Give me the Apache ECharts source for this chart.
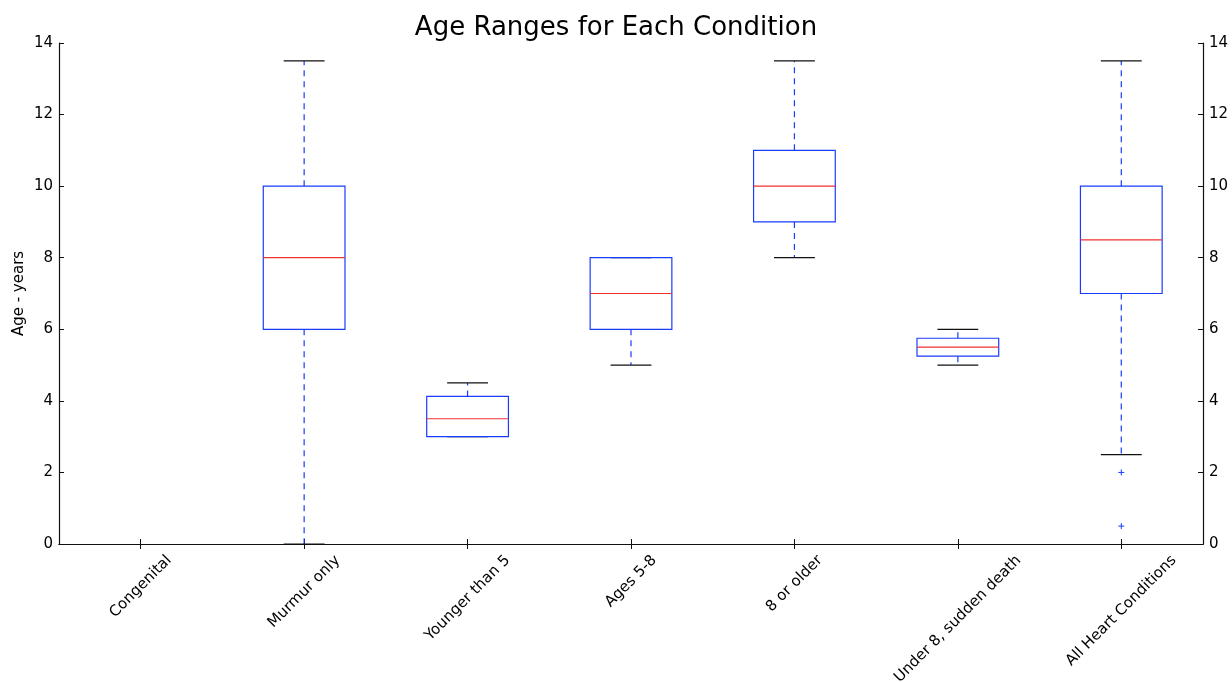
<!DOCTYPE html>
<html>
<head>
<meta charset="utf-8">
<script src="https://cdn.jsdelivr.net/npm/echarts@6/dist/echarts.min.js"></script>
<style>
  html, body { margin: 0; padding: 0; background: #fff; }
  #chart { width: 1232px; height: 682px; }
</style>
</head>
<body>
<div id="chart"></div>
<script>
// box statistics per condition (years)
var categories = ['Congenital', 'Murmur only', 'Younger than 5', 'Ages 5-8', '8 or older', 'Under 8, sudden death', 'All Heart Conditions'];
var whiskerLow  = [null, 0,    3,     5, 8,    5,    2.5];
var q1          = [null, 6,    3,     6, 9,    5.25, 7];
var median      = [null, 8,    3.5,   7, 10,   5.5,  8.5];
var q3          = [null, 10,   4.125, 8, 11,   5.75, 10];
var whiskerHigh = [null, 13.5, 4.5,   8, 13.5, 6,    13.5];
// outliers: [category index, value]
var outliers = [[6, 2], [6, 0.5]];

var FONT = '"DejaVu Sans", sans-serif';
var BLUE = '#1a3cff';

// rows for the custom series
var boxRows = [];
categories.forEach(function (c, i) {
    if (median[i] == null) return;
    boxRows.push([i, whiskerLow[i], q1[i], median[i], q3[i], whiskerHigh[i]]);
});

// rotated labels centred under the tick, like matplotlib's rotation=45
var ctx = document.createElement('canvas').getContext('2d');
ctx.font = '15px ' + FONT;
var rich = {};
categories.forEach(function (c, i) {
    var p = (ctx.measureText(c).width + 17) / 2;
    rich['l' + i] = { fontSize: 15, fontFamily: FONT, color: '#000', padding: [p, p, 0, 0] };
});

function renderBox(params, api) {
    var x = api.value(0);
    var band = api.size([1, 0])[0];
    var hw = band * 0.25, cw = band * 0.125;
    var pLow = api.coord([x, api.value(1)]);
    var pQ1 = api.coord([x, api.value(2)]);
    var pMed = api.coord([x, api.value(3)]);
    var pQ3 = api.coord([x, api.value(4)]);
    var pHigh = api.coord([x, api.value(5)]);
    var cx = pMed[0];
    var dash = { stroke: BLUE, lineWidth: 1.2, lineDash: [6, 5] };
    var cap = { stroke: '#111', lineWidth: 1.2 };
    var kids = [];
    if (api.value(1) < api.value(2)) {
        kids.push({ type: 'line', shape: { x1: cx, y1: pQ1[1], x2: cx, y2: pLow[1] }, style: dash });
    }
    if (api.value(5) > api.value(4)) {
        kids.push({ type: 'line', shape: { x1: cx, y1: pQ3[1], x2: cx, y2: pHigh[1] }, style: dash });
    }
    kids.push({ type: 'line', shape: { x1: cx - cw, y1: pLow[1], x2: cx + cw, y2: pLow[1] }, style: cap });
    kids.push({ type: 'line', shape: { x1: cx - cw, y1: pHigh[1], x2: cx + cw, y2: pHigh[1] }, style: cap });
    kids.push({ type: 'rect', shape: { x: cx - hw, y: pQ3[1], width: hw * 2, height: pQ1[1] - pQ3[1] },
        style: { fill: null, stroke: BLUE, lineWidth: 1.2 } });
    kids.push({ type: 'line', shape: { x1: cx - hw, y1: pMed[1], x2: cx + hw, y2: pMed[1] },
        style: { stroke: '#f03030', lineWidth: 1.2 } });
    return { type: 'group', children: kids };
}

function renderFlier(params, api) {
    var p = api.coord([api.value(0), api.value(1)]);
    var s = 3;
    var st = { stroke: BLUE, lineWidth: 1 };
    return { type: 'group', children: [
        { type: 'line', shape: { x1: p[0] - s, y1: p[1], x2: p[0] + s, y2: p[1] }, style: st },
        { type: 'line', shape: { x1: p[0], y1: p[1] - s, x2: p[0], y2: p[1] + s }, style: st }
    ] };
}

var axisLine = { show: true, lineStyle: { color: '#111', width: 1.2 } };
var tick = { show: true, inside: true, length: 5, lineStyle: { color: '#111' } };

var yAxisBase = {
    type: 'value', min: 0, max: 14, interval: 2,
    axisLine: axisLine, axisTick: tick, splitLine: { show: false },
    axisLabel: { fontSize: 15, fontFamily: FONT, color: '#000', margin: 6 }
};

var option = {
    backgroundColor: '#fff',
    animation: false,
    title: {
        text: 'Age Ranges for Each Condition', left: 'center', top: 10,
        textStyle: { fontSize: 26, fontWeight: 'normal', fontFamily: FONT, color: '#000' }
    },
    grid: { left: 59, right: 29, top: 43, bottom: 138, containLabel: false, outerBoundsMode: 'none' },
    xAxis: [{
        type: 'category', data: categories, position: 'bottom',
        axisLine: axisLine, axisTick: Object.assign({ alignWithLabel: true }, tick),
        axisLabel: {
            interval: 0, rotate: 45, margin: 8, align: 'center', verticalAlign: 'middle',
            formatter: function (v, i) { return '{l' + i + '|' + v + '}'; },
            rich: rich
        }
    }, {
        type: 'category', data: categories, position: 'top',
        axisLine: axisLine, axisTick: Object.assign({ alignWithLabel: true }, tick),
        axisLabel: { show: false }
    }],
    yAxis: [
        Object.assign({}, yAxisBase, {
            position: 'left', name: 'Age - years', nameLocation: 'middle', nameGap: 32,
            nameMoveOverlap: false,
            nameRotate: 90, nameTextStyle: { fontSize: 15, fontFamily: FONT, color: '#000' }
        }),
        Object.assign({}, yAxisBase, { position: 'right' })
    ],
    series: [{
        type: 'custom', xAxisIndex: 0, yAxisIndex: 0,
        renderItem: renderBox, data: boxRows, clip: false
    }, {
        type: 'custom', xAxisIndex: 0, yAxisIndex: 0,
        renderItem: renderFlier, data: outliers
    }]
};

var myChart = echarts.init(document.getElementById('chart'));
myChart.setOption(option);
</script>
</body>
</html>
